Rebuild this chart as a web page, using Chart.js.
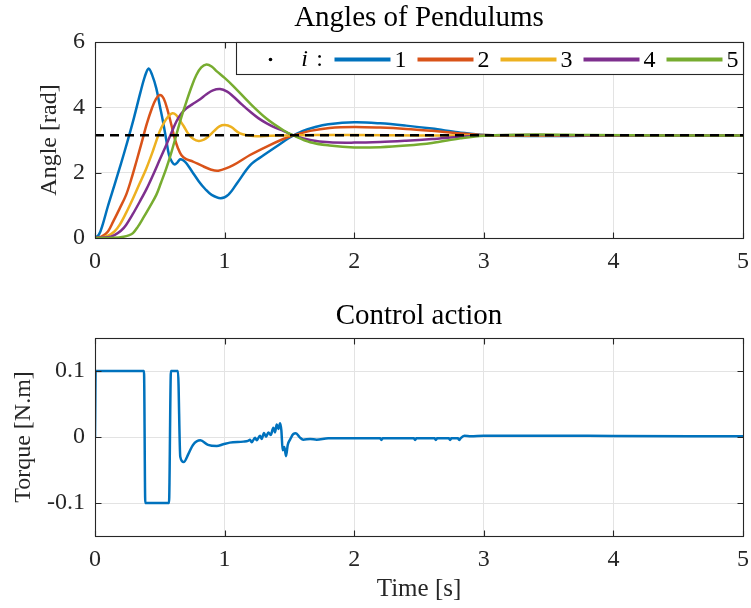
<!DOCTYPE html>
<html>
<head>
<meta charset="utf-8">
<script src="https://cdn.jsdelivr.net/npm/chart.js@4.4.1/dist/chart.umd.min.js"></script>
<style>
  html, body { margin: 0; padding: 0; background: #fff; }
  .panel { position: absolute; left: 0; }
</style>
</head>
<body>
<div class="panel" style="top:0"><canvas id="anglesChart" width="751" height="290"></canvas></div>
<div class="panel" style="top:290px"><canvas id="torqueChart" width="751" height="318"></canvas></div>
<script>
// pendulum angles, each series at its own time samples
var t1 = [0, 0.03, 0.06, 0.1, 0.15, 0.2, 0.25, 0.3, 0.35, 0.385, 0.414, 0.44, 0.473, 0.5, 0.525, 0.55, 0.571, 0.595, 0.615, 0.635, 0.658, 0.68, 0.705, 0.75, 0.8, 0.85, 0.9, 0.97, 1.03, 1.1, 1.2, 1.3, 1.4, 1.5, 1.6, 1.7, 1.8, 2.0, 2.2, 2.4, 2.6, 2.8, 3.0, 3.4, 3.8, 4.4, 5.0];
var angle1 = [0, 0.1, 0.42, 0.98, 1.62, 2.27, 2.95, 3.67, 4.45, 4.95, 5.19, 5.0, 4.58, 4.05, 3.56, 3.0, 2.54, 2.32, 2.25, 2.31, 2.41, 2.38, 2.29, 2.03, 1.74, 1.50, 1.32, 1.22, 1.33, 1.70, 2.24, 2.53, 2.80, 3.07, 3.27, 3.40, 3.48, 3.54, 3.51, 3.44, 3.35, 3.24, 3.15, 3.12, 3.13, 3.14, 3.14];

var t2 = [0, 0.05, 0.1, 0.14, 0.19, 0.24, 0.28, 0.32, 0.36, 0.4, 0.44, 0.47, 0.5, 0.53, 0.563, 0.59, 0.615, 0.64, 0.666, 0.7, 0.756, 0.82, 0.897, 0.952, 1.067, 1.196, 1.325, 1.453, 1.53, 1.66, 1.81, 2.0, 2.2, 2.4, 2.6, 2.8, 3.0, 3.4, 3.8, 4.4, 5.0];
var angle2 = [0, 0.04, 0.2, 0.5, 0.9, 1.32, 1.8, 2.35, 2.92, 3.5, 3.98, 4.25, 4.38, 4.27, 3.87, 3.45, 3.05, 2.75, 2.54, 2.42, 2.34, 2.22, 2.09, 2.06, 2.23, 2.54, 2.80, 3.03, 3.14, 3.28, 3.37, 3.40, 3.38, 3.34, 3.28, 3.21, 3.15, 3.13, 3.14, 3.14, 3.14];

var t3 = [0, 0.05, 0.1, 0.15, 0.19, 0.24, 0.293, 0.34, 0.396, 0.45, 0.499, 0.535, 0.563, 0.597, 0.625, 0.653, 0.685, 0.718, 0.76, 0.8, 0.84, 0.872, 0.92, 0.96, 1.003, 1.05, 1.119, 1.22, 1.35, 1.5, 1.7, 2.0, 2.5, 3.0, 3.5, 4.0, 5.0];
var angle3 = [0, 0.01, 0.07, 0.2, 0.40, 0.77, 1.21, 1.63, 2.13, 2.7, 3.26, 3.55, 3.71, 3.82, 3.77, 3.61, 3.42, 3.20, 3.03, 2.97, 3.01, 3.10, 3.28, 3.42, 3.46, 3.40, 3.20, 3.12, 3.13, 3.14, 3.15, 3.15, 3.14, 3.14, 3.14, 3.14, 3.14];

var t4 = [0, 0.1, 0.15, 0.2, 0.24, 0.29, 0.345, 0.4, 0.448, 0.5, 0.55, 0.59, 0.627, 0.665, 0.705, 0.75, 0.808, 0.86, 0.91, 0.965, 1.02, 1.067, 1.13, 1.196, 1.26, 1.325, 1.39, 1.453, 1.53, 1.66, 1.81, 2.0, 2.2, 2.4, 2.6, 2.82, 3.0, 3.4, 3.8, 4.4, 5.0];
var angle4 = [0, 0.02, 0.09, 0.22, 0.40, 0.72, 1.11, 1.52, 1.93, 2.40, 2.85, 3.22, 3.56, 3.80, 3.97, 4.09, 4.24, 4.40, 4.52, 4.56, 4.48, 4.33, 4.10, 3.87, 3.67, 3.51, 3.38, 3.28, 3.14, 3.00, 2.93, 2.92, 2.94, 2.98, 3.03, 3.10, 3.14, 3.15, 3.14, 3.14, 3.14];

var t5 = [0, 0.15, 0.22, 0.26, 0.293, 0.33, 0.37, 0.42, 0.473, 0.51, 0.55, 0.59, 0.627, 0.665, 0.705, 0.745, 0.782, 0.82, 0.86, 0.9, 0.94, 1.0, 1.067, 1.196, 1.325, 1.453, 1.53, 1.66, 1.81, 2.0, 2.2, 2.4, 2.6, 2.82, 3.0, 3.4, 3.8, 4.4, 5.0];
var angle5 = [0, 0.01, 0.04, 0.08, 0.15, 0.34, 0.60, 0.94, 1.32, 1.70, 2.13, 2.63, 3.15, 3.68, 4.17, 4.63, 4.99, 5.22, 5.31, 5.25, 5.10, 4.90, 4.65, 4.12, 3.65, 3.30, 3.14, 2.93, 2.83, 2.77, 2.78, 2.83, 2.91, 3.05, 3.13, 3.17, 3.15, 3.14, 3.14];

var refT = [0, 5];
var refAngle = [Math.PI, Math.PI];

// control torque
var torqueT = [0, 0.005, 0.378, 0.388, 0.571, 0.586, 0.640, 0.658, 0.684, 0.72, 0.756, 0.813, 0.872, 0.94, 0.99, 1.04, 1.144, 1.18, 1.196, 1.209, 1.235, 1.248, 1.273, 1.286, 1.304, 1.32, 1.338, 1.356, 1.376, 1.389, 1.402, 1.415, 1.428, 1.438, 1.448, 1.461, 1.474, 1.487, 1.505, 1.53, 1.55, 1.58, 1.607, 1.66, 1.71, 1.8, 2.2, 2.21, 2.22, 2.46, 2.47, 2.48, 2.62, 2.63, 2.64, 2.73, 2.74, 2.75, 2.8, 2.81, 2.82, 2.85, 2.9, 3.0, 3.5, 4.0, 5.0];
var torque = [0, 0.1, 0.1, -0.1, -0.1, 0.1, 0.1, -0.030, -0.038, -0.026, -0.012, -0.005, -0.012, -0.0137, -0.011, -0.0085, -0.007, -0.006, -0.004, -0.008, -0.001, -0.005, 0.002, -0.003, 0.006, 0.0005, 0.007, 0.003, 0.014, 0.007, 0.019, 0.012, 0.021, 0.010, -0.020, -0.015, -0.029, -0.012, -0.004, 0.0046, 0.0056, -0.0005, -0.004, -0.003, -0.004, -0.002, -0.002, -0.0045, -0.002, -0.002, -0.0045, -0.002, -0.002, -0.0045, -0.002, -0.002, -0.0045, -0.002, -0.002, -0.0045, -0.002, 0.002, 0.001, 0.002, 0.002, 0.0015, 0.001];

var timeTicks = [0, 1, 2, 3, 4, 5];
var angleTicks = [0, 2, 4, 6];
var torqueTicks = [-0.1, 0, 0.1];
var torqueTickLabels = ["-0.1", "0", "0.1"];

var legendLabels = ["1", "2", "3", "4", "5"];
var colors = ["#0072BD", "#D95319", "#EDB120", "#7E2F8E", "#77AC30"];

var FONT = "'Liberation Serif', 'Times New Roman', serif";
var INK = "#262626";
var GRID = "#e3e3e3";

function pts(ts, ys) {
    return ts.map(function (t, i) { return { x: t, y: ys[i] }; });
}

function curve(data, color, order) {
    return {
        data: data,
        borderColor: color,
        borderWidth: 2.5,
        pointRadius: 0,
        fill: false,
        tension: 0.35,
        order: order
    };
}

// MATLAB style box with inward ticks on all four sides
var axesBox = {
    id: "axesBox",
    afterDatasetsDraw: function (chart) {
        var ctx = chart.ctx, a = chart.chartArea;
        var x = chart.scales.x, y = chart.scales.y;
        var L = Math.round(a.left) + 0.5, R = Math.round(a.right) + 0.5;
        var T = Math.round(a.top) + 0.5, B = Math.round(a.bottom) + 0.5;
        ctx.save();
        ctx.strokeStyle = INK;
        ctx.lineWidth = 1.1;
        ctx.beginPath();
        x.ticks.forEach(function (t) {
            var p = Math.round(x.getPixelForValue(t.value)) + 0.5;
            ctx.moveTo(p, B); ctx.lineTo(p, B - 6);
            ctx.moveTo(p, T); ctx.lineTo(p, T + 6);
        });
        y.ticks.forEach(function (t) {
            var p = Math.round(y.getPixelForValue(t.value)) + 0.5;
            ctx.moveTo(L, p); ctx.lineTo(L + 6, p);
            ctx.moveTo(R, p); ctx.lineTo(R - 6, p);
        });
        ctx.stroke();
        ctx.strokeRect(L, T, R - L, B - T);
        ctx.restore();
    }
};

// legend box inside the top-right corner: ". i : ---1 ---2 ..."
var angleLegend = {
    id: "angleLegend",
    afterDraw: function (chart) {
        var ctx = chart.ctx, a = chart.chartArea;
        var right = Math.round(a.right) + 0.5, top = Math.round(a.top) + 0.5;
        var left = right - 507, h = 32, mid = top + 17;
        ctx.save();
        ctx.fillStyle = "#fff";
        ctx.fillRect(left, top, right - left, h);
        ctx.strokeStyle = INK;
        ctx.lineWidth = 1.1;
        ctx.strokeRect(left, top, right - left, h);

        ctx.fillStyle = "#000";
        ctx.beginPath();
        ctx.arc(left + 34, mid, 1.8, 0, Math.PI * 2);
        ctx.fill();

        ctx.textBaseline = "middle";
        ctx.textAlign = "center";
        ctx.font = "italic 24px " + FONT;
        ctx.fillText("i", left + 68, mid);
        ctx.font = "24px " + FONT;
        ctx.fillText(":", left + 83, mid);

        ctx.textAlign = "left";
        legendLabels.forEach(function (lab, k) {
            var x0 = left + 98 + 83 * k;
            ctx.strokeStyle = colors[k];
            ctx.lineWidth = 4;
            ctx.beginPath();
            ctx.moveTo(x0, mid);
            ctx.lineTo(x0 + 56, mid);
            ctx.stroke();
            ctx.fillStyle = "#000";
            ctx.fillText(lab, x0 + 60, mid + 1);
        });
        ctx.restore();
    }
};

function xScale(height, withTitle) {
    var s = {
        type: "linear",
        min: 0,
        max: 5,
        afterBuildTicks: function (scale) {
            scale.ticks = timeTicks.map(function (v) { return { value: v }; });
        },
        ticks: {
            color: INK,
            font: { family: FONT, size: 24 },
            padding: 9,
            maxRotation: 0,
            callback: function (v) { return String(v); }
        },
        grid: { color: GRID, drawTicks: false },
        border: { display: false },
        afterFit: function (scale) {
            scale.height = height;
            scale.paddingRight = 8;
            scale.paddingLeft = 8;
        }
    };
    if (withTitle) {
        s.title = {
            display: true,
            text: "Time [s]",
            color: INK,
            font: { family: FONT, size: 25 },
            padding: { top: 0, bottom: 4 }
        };
    }
    return s;
}

new Chart("anglesChart", {
    type: "line",
    data: {
        datasets: [
            {
                data: pts(refT, refAngle),
                borderColor: "#000",
                borderWidth: 2.5,
                borderDash: [9, 6],
                pointRadius: 0,
                fill: false,
                order: 0
            },
            curve(pts(t1, angle1), colors[0], 5),
            curve(pts(t2, angle2), colors[1], 4),
            curve(pts(t3, angle3), colors[2], 3),
            curve(pts(t4, angle4), colors[3], 2),
            curve(pts(t5, angle5), colors[4], 1)
        ]
    },
    options: {
        responsive: false,
        animation: false,
        layout: { padding: 0 },
        plugins: {
            legend: { display: false },
            tooltip: { enabled: false },
            title: {
                display: true,
                fullSize: false,
                text: "Angles of Pendulums",
                color: "#000",
                font: { family: FONT, size: 29, weight: "normal" },
                padding: { top: 1, bottom: 6.2 }
            }
        },
        scales: {
            x: xScale(52, false),
            y: {
                type: "linear",
                min: 0,
                max: 6,
                afterBuildTicks: function (scale) {
                    scale.ticks = angleTicks.map(function (v) { return { value: v }; });
                },
                ticks: {
                    color: INK,
                    font: { family: FONT, size: 24 },
                    padding: 10,
                    callback: function (v) { return String(v); }
                },
                grid: { color: GRID, drawTicks: false },
                border: { display: false },
                title: {
                    display: true,
                    text: "Angle [rad]",
                    color: INK,
                    font: { family: FONT, size: 24 },
                    padding: { top: 35.6, bottom: 0 }
                },
                afterFit: function (scale) { scale.width = 95; }
            }
        }
    },
    plugins: [axesBox, angleLegend]
});

new Chart("torqueChart", {
    type: "line",
    data: {
        datasets: [
            {
                data: pts(torqueT, torque),
                borderColor: colors[0],
                borderWidth: 2.5,
                pointRadius: 0,
                fill: false,
                cubicInterpolationMode: "monotone"
            }
        ]
    },
    options: {
        responsive: false,
        animation: false,
        layout: { padding: 0 },
        plugins: {
            legend: { display: false },
            tooltip: { enabled: false },
            title: {
                display: true,
                fullSize: false,
                text: "Control action",
                color: "#000",
                font: { family: FONT, size: 29, weight: "normal" },
                padding: { top: 8.6, bottom: 4.6 }
            }
        },
        scales: {
            x: xScale(72, true),
            y: {
                type: "linear",
                min: -0.15,
                max: 0.15,
                afterBuildTicks: function (scale) {
                    scale.ticks = torqueTicks.map(function (v) { return { value: v }; });
                },
                ticks: {
                    color: INK,
                    font: { family: FONT, size: 24 },
                    padding: 10,
                    callback: function (v, i) { return torqueTickLabels[i]; }
                },
                grid: { color: GRID, drawTicks: false },
                border: { display: false },
                title: {
                    display: true,
                    text: "Torque [N.m]",
                    color: INK,
                    font: { family: FONT, size: 24 },
                    padding: { top: 9, bottom: 0 }
                },
                afterFit: function (scale) { scale.width = 95; }
            }
        }
    },
    plugins: [axesBox]
});
</script>
</body>
</html>
